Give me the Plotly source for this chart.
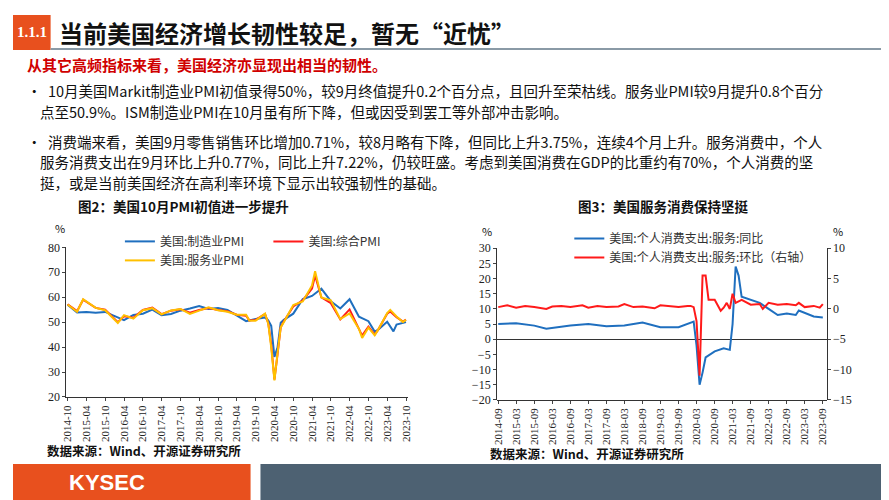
import plotly.graph_objects as go

# Fig 2: US PMI (Markit)
pmi_mfg_dates = ["2014-10", "2015-01", "2015-04", "2015-07", "2015-10", "2016-01", "2016-04", "2016-07",
                 "2016-10", "2017-01", "2017-04", "2017-07", "2017-10", "2018-01", "2018-04", "2018-07",
                 "2018-10", "2019-01", "2019-04", "2019-07", "2019-10", "2020-01", "2020-02", "2020-03",
                 "2020-04", "2020-05", "2020-06", "2020-07", "2020-10", "2021-01", "2021-04", "2021-07",
                 "2021-10", "2022-01", "2022-04", "2022-07", "2022-10", "2022-12", "2023-01", "2023-04",
                 "2023-06", "2023-07", "2023-10"]
pmi_mfg = [57.0, 53.9, 54.1, 53.8, 54.1, 52.4, 50.8, 52.9, 53.4, 55.0, 52.8, 53.3, 54.6, 55.5, 56.5, 55.3,
           55.7, 54.9, 52.6, 50.4, 51.3, 51.9, 50.7, 48.5, 36.1, 39.8, 49.8, 50.9, 53.4, 59.2, 60.5, 63.4,
           58.4, 55.5, 59.2, 52.2, 50.4, 46.2, 46.9, 50.2, 46.3, 49.0, 50.0]

pmi_svc_dates = ["2014-10", "2015-01", "2015-03", "2015-07", "2015-10", "2016-02", "2016-04", "2016-07",
                 "2016-10", "2017-01", "2017-04", "2017-07", "2017-10", "2018-01", "2018-04", "2018-07",
                 "2018-10", "2019-01", "2019-04", "2019-07", "2019-08", "2019-10", "2020-01", "2020-02",
                 "2020-03", "2020-04", "2020-05", "2020-06", "2020-07", "2020-10", "2021-01", "2021-04",
                 "2021-05", "2021-07", "2021-10", "2022-01", "2022-04", "2022-07", "2022-08", "2022-10",
                 "2022-12", "2023-01", "2023-04", "2023-05", "2023-07", "2023-09", "2023-10"]
pmi_svc = [57.1, 54.2, 59.2, 55.7, 54.8, 49.7, 52.8, 51.4, 54.8, 55.6, 53.1, 54.7, 55.3, 53.3, 54.6, 56.0,
           54.8, 54.2, 53.0, 53.0, 50.7, 50.6, 53.4, 49.4, 39.8, 26.7, 37.5, 47.9, 50.0, 56.9, 58.3, 64.7,
           70.4, 59.9, 58.7, 51.2, 53.5, 47.3, 43.7, 47.8, 44.7, 46.8, 53.6, 54.9, 52.3, 50.1, 50.9]
pmi_comp = [57.2, 54.4, 59.0, 55.7, 55.0, 50.0, 52.4, 51.8, 54.9, 55.8, 53.2, 54.6, 55.2, 53.8, 54.9, 55.7,
            54.9, 54.4, 53.0, 52.6, 50.7, 50.9, 53.3, 49.6, 40.9, 27.0, 37.0, 47.9, 50.3, 56.3, 58.7, 63.5,
            68.7, 59.9, 57.6, 51.1, 55.1, 47.7, 44.6, 48.2, 45.0, 46.8, 53.4, 54.3, 52.0, 50.2, 51.0]

# Fig 3: US PCE services, YoY (left) and MoM (right axis)
pce_dates = ["2014-09", "2015-03", "2015-09", "2016-01", "2016-09", "2017-03", "2017-09", "2018-03",
             "2018-09", "2019-03", "2019-09", "2020-01", "2020-02", "2020-03", "2020-04", "2020-05",
             "2020-06", "2020-09", "2020-12", "2021-02", "2021-03", "2021-04", "2021-05", "2021-06",
             "2021-09", "2021-12", "2022-03", "2022-06", "2022-09", "2022-12", "2023-01", "2023-06",
             "2023-09"]
pce_yoy = [5.0, 5.3, 4.5, 3.5, 4.5, 5.0, 4.3, 4.5, 5.5, 4.0, 4.0, 5.5, 5.8, -2.0, -15.0, -11.0,
           -6.0, -4.0, -3.0, -3.5, 5.0, 24.0, 21.0, 14.0, 13.0, 12.0, 10.0, 8.0, 8.5, 8.0, 9.5, 7.5, 7.2]

mom_dates = ["2014-09", "2014-12", "2015-03", "2015-06", "2015-09", "2016-01", "2016-03", "2016-06",
             "2016-09", "2017-01", "2017-03", "2017-06", "2017-09", "2018-01", "2018-03", "2018-06",
             "2018-09", "2019-01", "2019-03", "2019-06", "2019-09", "2019-12", "2020-01", "2020-02",
             "2020-03", "2020-04", "2020-05", "2020-06", "2020-07", "2020-09", "2020-11", "2020-12",
             "2021-01", "2021-02", "2021-03", "2021-04", "2021-06", "2021-09", "2021-12", "2022-01",
             "2022-03", "2022-06", "2022-09", "2022-12", "2023-01", "2023-03", "2023-06", "2023-08",
             "2023-09"]
pce_mom = [0.3, 0.6, 0.2, 0.5, 0.3, 0.0, 0.4, 0.5, 0.3, 0.6, 0.2, 0.5, 0.3, 0.4, 0.8, 0.3,
           0.4, 0.1, 0.6, 0.4, 0.3, 0.5, 0.5, 0.3, -2.0, -11.0, 5.5, 5.5, 1.5, 1.5, -0.3, 0.2,
           1.0, 0.0, 2.5, 1.0, 1.5, 0.7, 0.8, 0.0, 1.0, 0.7, 0.8, 0.6, 1.0, 0.3, 0.5, 0.2, 0.8]

W, H = 889, 500
FONT = "Noto Sans CJK SC"


def px(x):
    return x / W


def py(y):
    return 1 - y / H


fig = go.Figure()

fig.add_trace(go.Scatter(x=pmi_mfg_dates, y=pmi_mfg, name="美国:制造业PMI", mode="lines",
                         line=dict(color="#1f6fbf", width=2), legend="legend"))
fig.add_trace(go.Scatter(x=pmi_svc_dates, y=pmi_comp, name="美国:综合PMI", mode="lines",
                         line=dict(color="#ff1a1a", width=2), legend="legend3"))
fig.add_trace(go.Scatter(x=pmi_svc_dates, y=pmi_svc, name="美国:服务业PMI", mode="lines",
                         line=dict(color="#ffc000", width=2), legend="legend"))

fig.add_trace(go.Scatter(x=pce_dates, y=pce_yoy, name="美国:个人消费支出:服务:同比", mode="lines",
                         line=dict(color="#1f6fbf", width=2), xaxis="x2", yaxis="y2", legend="legend2"))
fig.add_trace(go.Scatter(x=mom_dates, y=pce_mom, name="美国:个人消费支出:服务:环比（右轴）", mode="lines",
                         line=dict(color="#ff1a1a", width=2), xaxis="x2", yaxis="y3", legend="legend2"))

tickfont = dict(family="Liberation Serif", size=12, color="#222")
common_x = dict(type="date", tickformat="%Y-%m", dtick="M6", tickangle=-90, showgrid=False,
                showline=True, linecolor="#333", ticks="outside", ticklen=3,
                tickfont=dict(family="Liberation Serif", size=11, color="#222"))
legfont = dict(size=12, color="#333")

fig.update_layout(
    width=W, height=H, margin=dict(l=0, r=0, t=0, b=0),
    paper_bgcolor="white", plot_bgcolor="white", font=dict(family=FONT),
    xaxis=dict(domain=[px(54), px(399)], range=["2014-09-20", "2023-10-20"], tick0="2014-10-01",
               anchor="y", **common_x),
    yaxis=dict(domain=[py(393), py(239)], range=[20, 80], dtick=10, showgrid=False, showline=True,
               linecolor="#333", ticks="outside", ticklen=3, tickfont=tickfont, zeroline=False),
    xaxis2=dict(domain=[px(489), px(822)], range=["2014-08-20", "2023-10-10"], tick0="2014-09-01",
                anchor="free", position=py(396), **common_x),
    yaxis2=dict(domain=[py(396), py(240)], range=[-20, 30], dtick=5, showgrid=False, showline=True,
                linecolor="#333", ticks="outside", ticklen=3, tickfont=tickfont, anchor="x2",
                zeroline=True, zerolinecolor="#333", zerolinewidth=1),
    yaxis3=dict(overlaying="y2", side="right", anchor="x2", range=[-15, 10], dtick=5, showgrid=False,
                showline=True, linecolor="#333", ticks="outside", ticklen=3, tickfont=tickfont,
                zeroline=False),
    legend=dict(x=px(108), y=py(218), xanchor="left", yanchor="top", orientation="v",
                font=legfont, bgcolor="rgba(0,0,0,0)", itemwidth=30, tracegroupgap=0),
    legend3=dict(x=px(258), y=py(218), xanchor="left", yanchor="top", orientation="v",
                 font=legfont, bgcolor="rgba(0,0,0,0)", itemwidth=30),
    legend2=dict(x=px(562), y=py(215), xanchor="left", yanchor="top", orientation="v",
                 font=legfont, bgcolor="rgba(0,0,0,0)", itemwidth=30, tracegroupgap=0),
)

shapes = [
    dict(type="rect", x0=0, x1=px(38), y0=py(36), y1=1, fillcolor="#e8501e", line_width=0),
    dict(type="line", x0=px(38), x1=1, y0=py(35), y1=py(35), line=dict(color="#8a9aa6", width=2)),
    dict(type="rect", x0=0, x1=px(240), y0=0, y1=py(462), fillcolor="#e8501e", line_width=0),
    dict(type="rect", x0=px(250), x1=1, y0=0, y1=py(462), fillcolor="#4d6172", line_width=0),
]
for s in shapes:
    s.update(xref="paper", yref="paper", layer="below")
fig.update_layout(shapes=shapes)


def txt(x, y, s, size=12, color="#111", bold=False, anchor="left", family=FONT):
    fig.add_annotation(x=px(x), y=py(y), xref="paper", yref="paper", text=f"<b>{s}</b>" if bold else s,
                       showarrow=False, xanchor=anchor, yanchor="middle",
                       font=dict(size=size, color=color, family=family))


txt(19, 18, "1.1.1", 15, "white", True, "center", "Liberation Serif")
txt(44, 18, "当前美国经济增长韧性较足，暂无“近忧”", 24, "#111", True)
txt(12, 51, "从其它高频指标来看，美国经济亦显现出相当的韧性。", 15, "#d00000", True)
body = [
    (78, "•  10月美国Markit制造业PMI初值录得50%，较9月终值提升0.2个百分点，且回升至荣枯线。服务业PMI较9月提升0.8个百分"),
    (99, "    点至50.9%。ISM制造业PMI在10月虽有所下降，但或因受到罢工等外部冲击影响。"),
    (130, "•  消费端来看，美国9月零售销售环比增加0.71%，较8月略有下降，但同比上升3.75%，连续4个月上升。服务消费中，个人"),
    (151, "    服务消费支出在9月环比上升0.77%，同比上升7.22%，仍较旺盛。考虑到美国消费在GDP的比重约有70%，个人消费的坚"),
    (172, "    挺，或是当前美国经济在高利率环境下显示出较强韧性的基础。"),
]
for y, s in body:
    txt(12, y, s, 14.5, "#111")

txt(172, 196, "图2：美国10月PMI初值进一步提升", 13.5, "#111", True, "center")
txt(657, 196, "图3：美国服务消费保持坚挺", 13.5, "#111", True, "center")
txt(40, 219, "%", 11)
txt(472, 222, "%", 11)
txt(826, 222, "%", 11)
txt(32, 448, "数据来源：Wind、开源证券研究所", 12.5, "#111", True)
txt(480, 451, "数据来源：Wind、开源证券研究所", 12.5, "#111", True)
txt(95, 481, "KYSEC", 22, "white", True, "center", "Liberation Sans")

fig.write_html("out.html")
